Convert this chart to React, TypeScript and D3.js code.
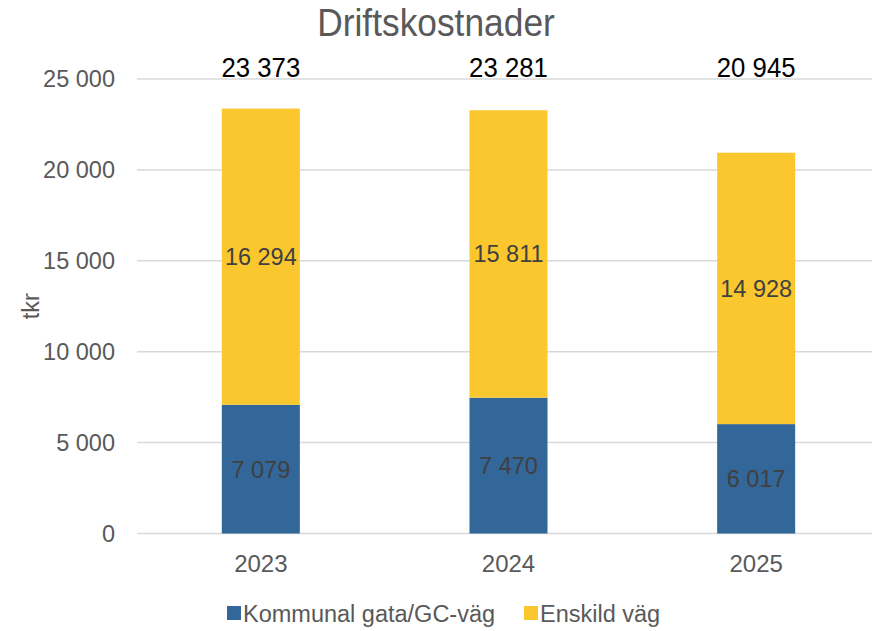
import { useEffect, useRef } from "react";
import * as d3 from "d3";

const W = 872;
const H = 631;
const MARGIN = { top: 79, right: 0, bottom: 97, left: 137 };
const PLOT_R = 880;

const YEARS = ["2023", "2024", "2025"];
const KOMMUNAL = [7079, 7470, 6017];
const ENSKILD = [16294, 15811, 14928];
const TOTALS = [23373, 23281, 20945];
const Y_TICKS = [0, 5000, 10000, 15000, 20000, 25000];

const SERIES = [
  { name: "Kommunal gata/GC-väg", values: KOMMUNAL, color: "#336699" },
  { name: "Enskild väg", values: ENSKILD, color: "#FBC72E" },
];

const FONT = '"Liberation Sans", Arial, sans-serif';
const GREY = "#595959";
const FS = 23.5;

const fmt = (v: number) => d3.format(",")(v).replace(/,/g, " ");

export default function App() {
  const svgRef = useRef<SVGSVGElement | null>(null);

  useEffect(() => {
    const svg = d3.select(svgRef.current);
    svg.selectAll("*").remove();

    const x = d3
      .scaleBand()
      .domain(YEARS)
      .range([MARGIN.left, PLOT_R])
      .paddingInner(0.685)
      .paddingOuter(0.3425);
    const y = d3
      .scaleLinear()
      .domain([0, 25000])
      .range([H - MARGIN.bottom - 0.5, MARGIN.top]);

    // title, narrow look via horizontal squeeze
    svg
      .append("text")
      .attr("transform", "translate(436,36) scale(0.93,1)")
      .attr("text-anchor", "middle")
      .attr("fill", GREY)
      .attr("font-family", FONT)
      .attr("font-size", 38)
      .text("Driftskostnader");

    // grid + y ticks
    const grid = svg.append("g");
    grid
      .selectAll("line")
      .data(Y_TICKS)
      .join("line")
      .attr("x1", MARGIN.left)
      .attr("x2", PLOT_R)
      .attr("y1", (d) => y(d))
      .attr("y2", (d) => y(d))
      .attr("stroke", "#d9d9d9")
      .attr("stroke-width", 1.5);
    grid
      .selectAll("text")
      .data(Y_TICKS)
      .join("text")
      .attr("x", 115)
      .attr("y", (d) => y(d) + 8)
      .attr("text-anchor", "end")
      .attr("fill", GREY)
      .attr("font-family", FONT)
      .attr("font-size", FS)
      .text((d) => fmt(d));

    svg
      .append("text")
      .attr("transform", `translate(39,${(y(0) + y(25000)) / 2}) rotate(-90)`)
      .attr("text-anchor", "middle")
      .attr("fill", GREY)
      .attr("font-family", FONT)
      .attr("font-size", FS)
      .text("tkr");

    // stacked bars
    const stacked = YEARS.map((year, i) => {
      let base = 0;
      return SERIES.map((s) => {
        const seg = { year, y0: base, y1: base + s.values[i], value: s.values[i], color: s.color };
        base += s.values[i];
        return seg;
      });
    }).flat();

    const bars = svg.append("g");
    bars
      .selectAll("rect")
      .data(stacked)
      .join("rect")
      .attr("x", (d) => x(d.year)!)
      .attr("width", x.bandwidth())
      .attr("y", (d) => y(d.y1))
      .attr("height", (d) => y(d.y0) - y(d.y1))
      .attr("fill", (d) => d.color);

    bars
      .selectAll("text")
      .data(stacked)
      .join("text")
      .attr("x", (d) => x(d.year)! + x.bandwidth() / 2)
      .attr("y", (d) => y((d.y0 + d.y1) / 2) + 8.5)
      .attr("text-anchor", "middle")
      .attr("fill", "#404040")
      .attr("font-family", FONT)
      .attr("font-size", FS)
      .text((d) => fmt(d.value));

    // totals
    svg
      .append("g")
      .selectAll("text")
      .data(YEARS)
      .join("text")
      .attr("transform", (d) => `translate(${x(d)! + x.bandwidth() / 2},77) scale(0.92,1)`)
      .attr("text-anchor", "middle")
      .attr("fill", "#000")
      .attr("font-family", FONT)
      .attr("font-size", 28)
      .text((_, i) => fmt(TOTALS[i]));

    // x labels
    svg
      .append("g")
      .selectAll("text")
      .data(YEARS)
      .join("text")
      .attr("x", (d) => x(d)! + x.bandwidth() / 2)
      .attr("y", 572)
      .attr("text-anchor", "middle")
      .attr("fill", GREY)
      .attr("font-family", FONT)
      .attr("font-size", 24)
      .text((d) => d);

    // legend
    const legend = svg.append("g");
    const items = [
      { ...SERIES[0], x: 227 },
      { ...SERIES[1], x: 524 },
    ];
    items.forEach((it) => {
      legend
        .append("rect")
        .attr("x", it.x)
        .attr("y", 606)
        .attr("width", 14)
        .attr("height", 14)
        .attr("fill", it.color);
      legend
        .append("text")
        .attr("x", it.x + 16)
        .attr("y", 622)
        .attr("fill", GREY)
        .attr("font-family", FONT)
        .attr("font-size", FS)
        .text(it.name);
    });
  }, []);

  return (
    <svg
      ref={svgRef}
      width={W}
      height={H}
      style={{ position: "absolute", left: 0, top: 0, background: "#fff" }}
    />
  );
}
